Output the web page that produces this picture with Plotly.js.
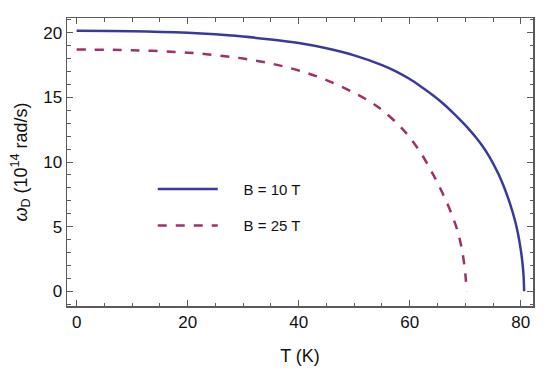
<!DOCTYPE html>
<html>
<head>
<meta charset="utf-8">
<script src="https://cdn.plot.ly/plotly-3.0.1.min.js"></script>
<style>html,body{margin:0;padding:0;background:#fff;}#chart{width:550px;height:373px;}</style>
</head>
<body>
<div id="chart"></div>
<script>
// B = 10 T series
var T10 = [0, 10, 20, 25, 30, 35, 40, 45, 50, 55, 57.5, 60, 62, 64, 66, 68, 70, 71, 72, 73, 74, 75, 76, 77, 78, 79, 79.5, 80, 80.3, 80.5, 80.6];
var w10 = [20.15, 20.12, 20.0, 19.88, 19.7, 19.48, 19.2, 18.8, 18.25, 17.5, 17.02, 16.42, 15.84, 15.22, 14.53, 13.73, 12.85, 12.37, 11.86, 11.3, 10.65, 9.9, 9.05, 8.05, 6.85, 5.4, 4.45, 3.2, 2.2, 1.2, 0];
// B = 25 T series
var T25 = [0, 10, 20, 25, 30, 35, 40, 45, 50, 53, 55, 58, 60, 62, 64, 65, 66, 67, 68, 68.6, 69.1, 69.5, 69.9, 70.1, 70.2];
var w25 = [18.7, 18.65, 18.46, 18.27, 18.0, 17.62, 17.08, 16.34, 15.35, 14.62, 14.02, 12.87, 11.9, 10.7, 9.2, 8.4, 7.5, 6.55, 5.45, 4.7, 3.85, 3.0, 1.8, 0.9, 0];
var names = ["\u00a0\u00a0\u00a0\u00a0\u00a0B = 10 T", "\u00a0\u00a0\u00a0\u00a0\u00a0B = 25 T"];
var xTicks = [0, 20, 40, 60, 80];
var yTicks = [0, 5, 10, 15, 20];

var font = "Liberation Sans, Arial, sans-serif";
var frame = "#5a5a5a";

var traces = [
  {x: T10, y: w10, name: names[0], type: "scatter", mode: "lines", line: {color: "#3a3a9c", width: 2.5, shape: "spline", smoothing: 1}, legendgroup: "a"},
  {x: T25, y: w25, name: names[1], type: "scatter", mode: "lines", line: {color: "#a0306a", width: 2.5, dash: "dash", shape: "spline", smoothing: 1}, legendgroup: "b"}
];

var axisCommon = {
  showgrid: false, zeroline: false, showline: true, linecolor: frame, linewidth: 1.5,
  mirror: "ticks", ticks: "inside", ticklen: 6, tickwidth: 1, tickcolor: frame,
  tickfont: {family: font, size: 17, color: "#111"}
};

var layout = {
  width: 550, height: 373,
  margin: {l: 67, r: 17, t: 18, b: 67},
  paper_bgcolor: "#fff", plot_bgcolor: "#fff",
  showlegend: true,
  legend: {x: 0.184, y: 0.463, xanchor: "left", yanchor: "top", bgcolor: "rgba(0,0,0,0)",
           font: {family: font, size: 15, color: "#111"}, traceorder: "grouped", tracegroupgap: 14, itemwidth: 60},
  xaxis: Object.assign({}, axisCommon, {
    range: [-1.73, 82.2], tickvals: xTicks, ticktext: xTicks.map(String),
    minor: {dtick: 5, tick0: 0, ticks: "inside", ticklen: 3.5, tickcolor: frame, tickwidth: 1},
    title: {text: "T (K)", font: {family: font, size: 18, color: "#111"}, standoff: 18}
  }),
  yaxis: Object.assign({}, axisCommon, {
    range: [-1.14, 21.14], tickvals: yTicks, ticktext: yTicks.map(String),
    minor: {dtick: 1, tick0: 0, ticks: "inside", ticklen: 3.5, tickcolor: frame, tickwidth: 1},
    title: {text: "<i>ω</i><sub>D</sub> (10<sup>14</sup> rad/s)", font: {family: font, size: 18, color: "#111"}, standoff: 11}
  })
};

Plotly.newPlot("chart", traces, layout, {staticPlot: true, displayModeBar: false});
</script>
</body>
</html>
